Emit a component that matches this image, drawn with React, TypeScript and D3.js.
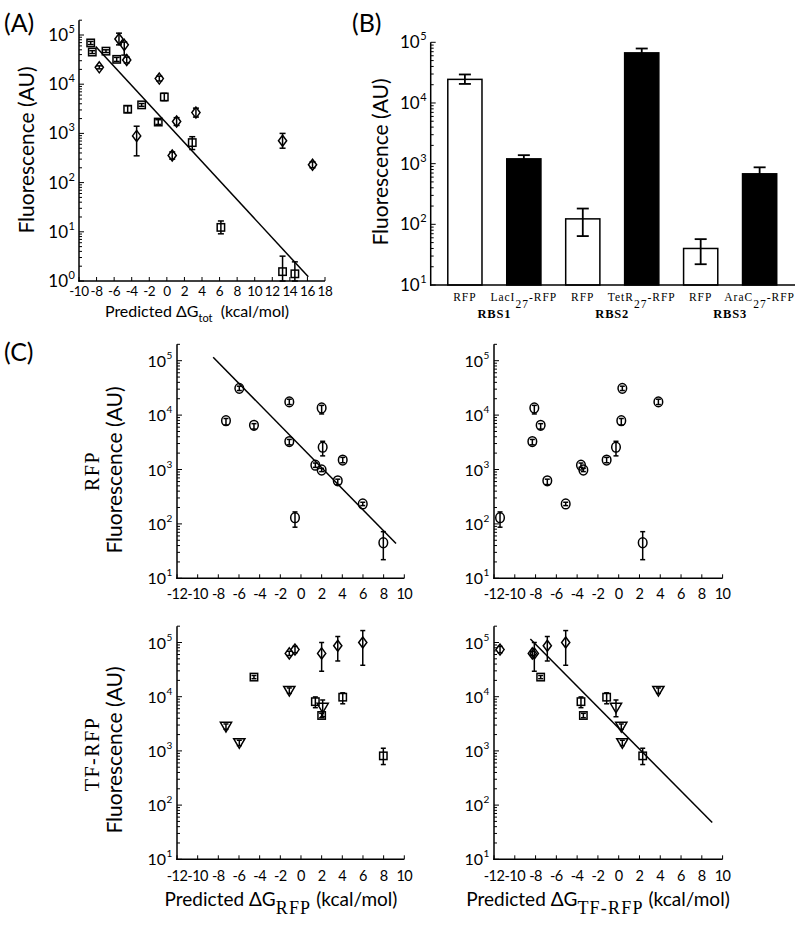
import React from 'react';
import * as d3 from 'd3';

// ---------------- Panel A data ----------------
const aSqX = [-8.67, -8.49, -6.93, -5.71, -4.46, -2.87, -0.29, -0.98, 2.89, 6.15, 13.17, 14.57];
const aSqY = [69000, 45000, 47000, 32000, 3100, 3800, 5500, 1700, 650, 12.3, 1.55, 1.4];
const aSqLo = [64000, 42000, 44000, 29000, 2650, 3550, 4630, 1520, 470, 9.1, 1.0, 1.0];
const aSqHi = [74000, 48000, 50000, 35000, 3650, 4050, 6530, 1900, 857, 16.6, 3.2, 2.45];

const aDiX = [-7.69, -5.45, -4.85, -4.57, -0.86, -3.44, 1.11, 3.31, 0.61, 13.17, 16.58];
const aDiY = [22000, 83000, 63000, 31000, 13000, 890, 1740, 2650, 355, 710, 230];
const aDiLo = [20500, 63000, 39000, 27000, 11600, 350, 1450, 2150, 300, 500, 200];
const aDiHi = [23600, 109000, 72000, 35600, 14600, 1400, 2090, 3260, 420, 1000, 264];

const aXTicks = d3.range(-10, 19, 2);
const fitSlope = -0.1935; // log10 units per kcal/mol
const fitA = { x0: -8.1, x1: 16.1, b: 3.2 };

// ---------------- Panel B data ----------------
const bLabels = ['RFP', 'LacI', 'RFP', 'TetR', 'RFP', 'AraC'];
const bIsTF = [false, true, false, true, false, true];
const bValues = [24500, 1200, 123, 67000, 40, 680];
const bLo = [20600, 1050, 64, 57000, 22, 530];
const bHi = [29500, 1380, 182, 79000, 57, 870];
const bGroups = ['RBS1', 'RBS2', 'RBS3'];

// ---------------- Panel C data (14 constructs) ----------------
const dgRFP = [-7.26, -5.97, -4.55, -1.13, -1.13, -0.58, 2.0, 2.1, 2.0, 1.39, 4.04, 3.56, 5.98, 7.97];
const dgTF = [0.25, 0.35, -7.51, 3.82, -8.31, -11.42, -8.12, -0.26, -3.4, -3.63, -1.16, -6.87, -5.1, 2.31];
const rfpVal = [7900, 31000, 6500, 17500, 3260, 130, 13500, 2570, 980, 1200, 1490, 620, 233, 45];
const rfpLo = [6580, 28300, 5530, 15600, 2840, 87, 10500, 1780, 915, 1095, 1330, 528, 217, 22];
const rfpHi = [8660, 34000, 6960, 19600, 3570, 166, 15100, 3300, 1050, 1315, 1670, 664, 250, 72];
const tfVal = [2800, 1400, 23000, 12900, 63000, 74000, 63000, 6300, 4500, 8100, 9800, 87000, 100000, 810];
const tfLo = [2500, 1250, 21500, 11500, 57500, 64500, 29500, 4270, 4100, 6270, 7400, 45600, 38000, 560];
const tfHi = [3140, 1570, 24600, 14500, 69000, 85000, 100000, 8700, 4930, 9900, 11800, 129000, 166000, 1120];
const tfShape = ['tri', 'tri', 'sq', 'tri', 'dia', 'dia', 'dia', 'tri', 'sq', 'sq', 'sq', 'dia', 'dia', 'sq'];
const cXTicks = d3.range(-12, 11, 2);
const fitC = { x0: -8.5, x1: 9.2, b: 3.42 };
const fitCbr = { x0: -8.5, x1: 9.0, b: 3.42 };

const SANS = "Lato, 'Open Sans', sans-serif";
const TYPE = "'Liberation Serif', 'DejaVu Serif', serif";

type Lin = d3.ScaleLinear<number, number>;
type Log = d3.ScaleLogarithmic<number, number>;

function LogYAxis({ y, x, fs = 16, supFs = 10 }: { y: Log; x: number; fs?: number; supFs?: number }) {
  const [d0, d1] = y.domain();
  const els: any[] = [];
  els.push(<line key="ax" x1={x} x2={x} y1={y(d0) + 0.7} y2={y(d1)} stroke="#000" strokeWidth={1.5} />);
  const e0 = Math.floor(Math.log10(d0));
  const e1 = Math.ceil(Math.log10(d1));
  for (let e = e0; e <= e1; e++) {
    for (let m = 1; m <= 9; m++) {
      const v = m * Math.pow(10, e);
      if (v < d0 * 0.999 || v > d1 * 1.001) continue;
      const py = y(v);
      const len = m === 1 ? 5 : 3;
      els.push(<line key={`t${e}-${m}`} x1={x} x2={x + len} y1={py} y2={py} stroke="#000" strokeWidth={1} />);
    }
    const v = Math.pow(10, e);
    if (v >= d0 * 0.999 && v <= d1 * 1.001) {
      const py = y(v);
      els.push(
        <text key={`l${e}`} x={x - 11} y={py + 6} textAnchor="end" fontSize={fs} fontFamily={SANS}>10</text>
      );
      els.push(
        <text key={`s${e}`} x={x - 10.5} y={py - 2} textAnchor="start" fontSize={supFs} fontFamily={SANS}>{e}</text>
      );
    }
  }
  return <g>{els}</g>;
}

function LinXAxis({ x, yPos, ticks, fs = 15, labelDy = 17, ls = 0 }: { x: Lin; yPos: number; ticks: number[]; fs?: number; labelDy?: number; ls?: number }) {
  const [r0, r1] = x.range();
  return (
    <g>
      <line x1={r0 - 0.7} x2={r1} y1={yPos} y2={yPos} stroke="#000" strokeWidth={1.5} />
      {ticks.map((t) => (
        <g key={t}>
          <line x1={x(t)} x2={x(t)} y1={yPos} y2={yPos - 4} stroke="#000" strokeWidth={1} />
          <text x={x(t)} y={yPos + labelDy} textAnchor="middle" fontSize={fs} letterSpacing={ls} fontFamily={SANS}>{String(t)}</text>
        </g>
      ))}
    </g>
  );
}

function Marker({ shape, cx, cy, s = 1 }: { shape: string; cx: number; cy: number; s?: number }) {
  const common = { fill: 'none', stroke: '#000', strokeWidth: 1.5 };
  if (shape === 'sq') return <rect x={cx - 3.7 * s} y={cy - 3.7 * s} width={7.4 * s} height={7.4 * s} {...common} />;
  if (shape === 'dia')
    return <path d={`M${cx},${cy - 5.5 * s}L${cx + 4.1 * s},${cy}L${cx},${cy + 5.5 * s}L${cx - 4.1 * s},${cy}Z`} {...common} />;
  if (shape === 'tri')
    return <path d={`M${cx - 5.6},${cy - 4.3}L${cx + 5.6},${cy - 4.3}L${cx},${cy + 5.3}Z`} {...common} />;
  return <ellipse cx={cx} cy={cy} rx={4.3} ry={4.9} {...common} />;
}

function ErrBar({ cx, y0, y1, cap = 3 }: { cx: number; y0: number; y1: number; cap?: number }) {
  return (
    <g stroke="#000" strokeWidth={1.5}>
      <line x1={cx} x2={cx} y1={y0} y2={y1} />
      <line x1={cx - cap} x2={cx + cap} y1={y0} y2={y0} />
      <line x1={cx - cap} x2={cx + cap} y1={y1} y2={y1} />
    </g>
  );
}

function Points({ xs, ys, lo, hi, shapes, x, y, cap = 3 }: any) {
  return (
    <g>
      {xs.map((v: number, i: number) => (
        <g key={i}>
          <ErrBar cx={x(v)} y0={y(lo[i])} y1={y(hi[i])} cap={cap} />
          <Marker shape={typeof shapes === 'string' ? shapes : shapes[i]} cx={x(v)} cy={y(ys[i])} />
        </g>
      ))}
    </g>
  );
}

function FitLine({ fit, x, y }: any) {
  const pts = [fit.x0, fit.x1].map((d: number) => [x(d), y(Math.pow(10, fit.b + fitSlope * d))]);
  return <path d={d3.line()(pts as [number, number][]) || ''} stroke="#000" strokeWidth={1.5} fill="none" />;
}

function YTitle({ x, y, size = 21, family = SANS, ls = 0, children }: any) {
  return (
    <text transform={`translate(${x},${y}) rotate(-90)`} textAnchor="middle" fontSize={size} fontFamily={family} letterSpacing={ls}>
      {children}
    </text>
  );
}

export default function App() {
  // Panel A scales
  const ax = d3.scaleLinear().domain([-10, 18]).range([79, 325]);
  const ay = d3.scaleLog().domain([1, 2e5]).range([281, 281 - Math.log10(2e5) * 49.2]);

  // Panel B scales
  const bx = d3.scaleLinear().domain([0.42, 6.6]).range([430.7, 795]);
  const by = d3.scaleLog().domain([10, 1e5]).range([285, 42.3]);
  const bw = 0.58;

  // Panel C scales
  const cxL = d3.scaleLinear().domain([-12, 10]).range([177, 404.3]);
  const cxR = d3.scaleLinear().domain([-12, 10]).range([494, 722.6]);
  const cyT = d3.scaleLog().domain([10, 2e5]).range([578.3, 578.3 - Math.log10(2e4) * 54.4]);
  const cyB = d3.scaleLog().domain([10, 2e5]).range([859.3, 859.3 - Math.log10(2e4) * 54.2]);

  return (
    <svg width={800} height={926} style={{ position: 'absolute', left: 0, top: 0, background: '#fff' }}>
      <rect x={0} y={0} width={800} height={926} fill="#fff" />

      {/* ---------------- Panel A ---------------- */}
      <text x={4} y={32} fontSize={25} fontFamily={SANS}>(A)</text>
      <LogYAxis y={ay} x={79} fs={17} supFs={11} />
      <LinXAxis x={ax} yPos={281} ticks={aXTicks} fs={13.5} labelDy={15} ls={-0.4} />
      <YTitle x={34} y={150}>Fluorescence (AU)</YTitle>
      <text x={197} y={317} textAnchor="middle" fontSize={16} fontFamily={SANS}>
        Predicted ΔG<tspan dy={5} fontSize={11}>tot</tspan><tspan dy={-5}>{'\u00a0 (kcal/mol)'}</tspan>
      </text>
      <FitLine fit={fitA} x={ax} y={ay} />
      <Points xs={aSqX} ys={aSqY} lo={aSqLo} hi={aSqHi} shapes="sq" x={ax} y={ay} cap={3} />
      <Points xs={aDiX} ys={aDiY} lo={aDiLo} hi={aDiHi} shapes="dia" x={ax} y={ay} cap={3} />

      {/* ---------------- Panel B ---------------- */}
      <text x={352} y={32} fontSize={25} fontFamily={SANS}>(B)</text>
      <YTitle x={388} y={162}>Fluorescence (AU)</YTitle>
      {bValues.map((v, i) => {
        const c = bx(i + 1);
        const x0 = bx(i + 1 - bw / 2);
        const x1 = bx(i + 1 + bw / 2);
        return (
          <g key={i}>
            <rect x={x0} y={by(v)} width={x1 - x0} height={by(10) - by(v)} fill={bIsTF[i] ? '#000' : '#fff'} stroke="#000" strokeWidth={1.5} />
            <g stroke="#000" strokeWidth={1.8}>
              <line x1={c} x2={c} y1={by(bLo[i])} y2={by(bHi[i])} />
              <line x1={c - 6} x2={c + 6} y1={by(bLo[i])} y2={by(bLo[i])} />
              <line x1={c - 6} x2={c + 6} y1={by(bHi[i])} y2={by(bHi[i])} />
            </g>
            {bIsTF[i] ? (
              <text x={c} y={301} textAnchor="middle" fontSize={11.5} letterSpacing={1} fontFamily={TYPE}>
                {bLabels[i]}<tspan dy={7}>27</tspan><tspan dy={-7}>-RFP</tspan>
              </text>
            ) : (
              <text x={c} y={301} textAnchor="middle" fontSize={11.5} letterSpacing={1} fontFamily={TYPE}>{bLabels[i]}</text>
            )}
          </g>
        );
      })}
      {bGroups.map((g, k) => (
        <text key={g} x={bx(2 * k + 1.5)} y={318} textAnchor="middle" fontSize={12.5} fontWeight="bold" letterSpacing={0.8} fontFamily={TYPE}>{g}</text>
      ))}
      <LogYAxis y={by} x={430.7} fs={17} supFs={11} />
      <line x1={430} x2={795} y1={285} y2={285} stroke="#000" strokeWidth={1.5} />

      {/* ---------------- Panel C ---------------- */}
      <text x={4} y={361} fontSize={25} fontFamily={SANS}>(C)</text>

      {/* row labels */}
      <YTitle x={99} y={471} size={20} family={TYPE} ls={1.5}>RFP</YTitle>
      <YTitle x={122} y={470}>Fluorescence (AU)</YTitle>
      <YTitle x={99} y={754} size={20} family={TYPE} ls={1.5}>TF-RFP</YTitle>
      <YTitle x={122} y={750}>Fluorescence (AU)</YTitle>

      {/* top-left */}
      <LogYAxis y={cyT} x={177} fs={16} supFs={10} />
      <LinXAxis x={cxL} yPos={578.3} ticks={cXTicks} fs={14.5} ls={-0.5} labelDy={21} />
      <FitLine fit={fitC} x={cxL} y={cyT} />
      <Points xs={dgRFP} ys={rfpVal} lo={rfpLo} hi={rfpHi} shapes="circ" x={cxL} y={cyT} cap={2.5} />

      {/* top-right */}
      <LogYAxis y={cyT} x={494} fs={16} supFs={10} />
      <LinXAxis x={cxR} yPos={578.3} ticks={cXTicks} fs={14.5} ls={-0.5} labelDy={21} />
      <Points xs={dgTF} ys={rfpVal} lo={rfpLo} hi={rfpHi} shapes="circ" x={cxR} y={cyT} cap={2.5} />

      {/* bottom-left */}
      <LogYAxis y={cyB} x={177} fs={16} supFs={10} />
      <LinXAxis x={cxL} yPos={859.3} ticks={cXTicks} fs={14.5} ls={-0.5} labelDy={22} />
      <Points xs={dgRFP} ys={tfVal} lo={tfLo} hi={tfHi} shapes={tfShape} x={cxL} y={cyB} cap={2.5} />
      <text x={281} y={906} textAnchor="middle" fontSize={19} fontFamily={SANS}>
        Predicted ΔG<tspan dy={8} fontFamily={TYPE} fontSize={18} letterSpacing={1.2}>RFP</tspan><tspan dy={-8}> (kcal/mol)</tspan>
      </text>

      {/* bottom-right */}
      <LogYAxis y={cyB} x={494} fs={16} supFs={10} />
      <LinXAxis x={cxR} yPos={859.3} ticks={cXTicks} fs={14.5} ls={-0.5} labelDy={22} />
      <FitLine fit={fitCbr} x={cxR} y={cyB} />
      <Points xs={dgTF} ys={tfVal} lo={tfLo} hi={tfHi} shapes={tfShape} x={cxR} y={cyB} cap={2.5} />
      <text x={598} y={906} textAnchor="middle" fontSize={19} fontFamily={SANS}>
        Predicted ΔG<tspan dy={8} fontFamily={TYPE} fontSize={18} letterSpacing={1.2}>TF-RFP</tspan><tspan dy={-8}> (kcal/mol)</tspan>
      </text>
    </svg>
  );
}
